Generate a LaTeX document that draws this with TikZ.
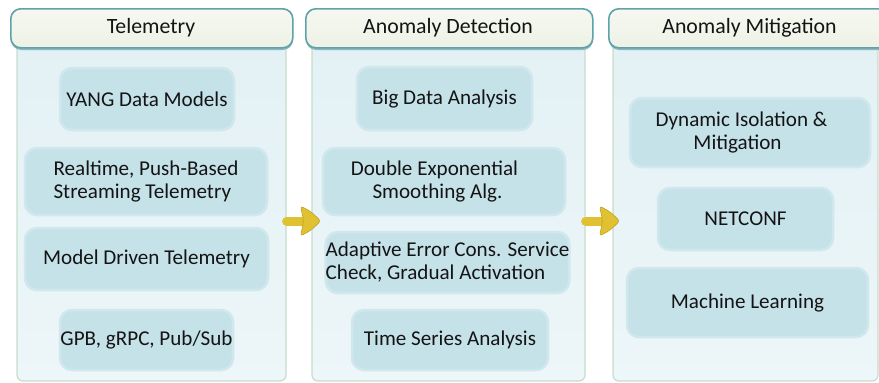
\documentclass[tikz,border=0pt]{standalone}
\usepackage{fontspec}
\setmainfont{Carlito}
\usetikzlibrary{calc}

\definecolor{headfill}{HTML}{EEF2E5}
\definecolor{headtop}{HTML}{F6F8F0}
\definecolor{headline}{HTML}{5EA2AB}
\definecolor{headshade}{HTML}{8DB9BE}
\definecolor{panelfill}{HTML}{E3F1F5}
\definecolor{panelfillb}{HTML}{EDF6F8}
\definecolor{panelline}{HTML}{C6DDCB}
\definecolor{itemfill}{HTML}{C6E2E9}
\definecolor{itemedge}{HTML}{CFE7ED}
\definecolor{textc}{HTML}{141414}
\definecolor{arrowc}{HTML}{E0C131}
\definecolor{arrowd}{HTML}{C4A229}

\tikzset{
  header/.style={draw=headline, line width=1.6pt, rounded corners=10pt,
    top color=headtop, bottom color=headfill, inner sep=0pt, anchor=north west},
  headtext/.style={text=textc, font=\fontsize{21.8}{24}\selectfont, inner sep=0pt},
  panel/.style={draw=panelline, line width=1.2pt, rounded corners=6pt,
    top color=panelfill, bottom color=panelfillb, inner sep=0pt},
  item/.style={fill=itemfill, draw=itemedge, line width=2.5pt,
    rounded corners=12pt, text=textc, align=center, inner sep=0pt,
    font=\fontsize{21.1}{23}\selectfont},
  shaft/.style={line width=9pt, line cap=round, draw=arrowc},
  ahead/.style={fill=arrowc, draw=arrowd, line width=0.6pt, rounded corners=2.5pt},
}

% box given by its corners in pixel-like units (y grows downward)
\newcommand\itembox[7][]{%
  \node[item, minimum width={#5-#3}, minimum height={#6-#4}, #1]
    (#2) at ({(#3+#5)/2},{(#4+#6)/2}) {#7};}

\newcommand\flowarrow[1]{%
  \draw[shaft] (#1) -- ++(17,0);
  \filldraw[ahead] ($(#1)+(14,-15)$) .. controls ++(11,6) .. ++(20,15)
    .. controls ++(-9,9) .. ++(-20,15) -- ++(3,-15) -- cycle;}

\begin{document}
\begin{tikzpicture}[x=1pt,y=-1pt]
\useasboundingbox (0,0) rectangle (879,383);
\clip (0,0) rectangle (879,383);

% column bodies
\node[panel, minimum width=269pt, minimum height=341pt] (p1) at (151.5,210.5) {};
\node[panel, minimum width=273pt, minimum height=341pt] (p2) at (448.5,210.5) {};
\node[panel, minimum width=265pt, minimum height=341pt] (p3) at (745.5,210.5) {};

% column headers (drop shadow first)
\fill[headshade, rounded corners=10pt] (11,11) rectangle (293,50);
\fill[headshade, rounded corners=10pt] (306,11) rectangle (593,50);
\fill[headshade, rounded corners=10pt] (609,11) rectangle (900,50);
\node[header, minimum width=282pt, minimum height=39pt] (h1) at (10,8) {};
\node[header, minimum width=287pt, minimum height=39pt] (h2) at (305,8) {};
\node[header, minimum width=290pt, minimum height=39pt] (h3) at (608,8) {};
\node[headtext] (t1) at (151,27.5) {Telemetry};
\node[headtext] (t2) at (448,27.5) {Anomaly Detection};
\node[headtext] (t3) at (749.5,27.5) {Anomaly Mitigation};

% Telemetry
\itembox{yang}{60}{68}{234}{130}{YANG Data Models}
\itembox[align=left]{push}{25}{148}{267}{215}{Realtime, Push-Based\\Streaming Telemetry}
\itembox{mdt}{25}{228}{268}{290}{Model Driven Telemetry}
\itembox{gpb}{60}{310}{233}{370}{GPB, gRPC, Pub/Sub}

% Anomaly Detection
\itembox{bigdata}{357}{67}{532}{130}{Big Data Analysis}
\itembox{des}{323}{148}{565}{215}{Double Exponential\hspace*{19pt}\\Smoothing Alg.\hspace*{13pt}}
\itembox[align=left]{aecs}{327}{232}{568}{293}{Adaptive Error Cons. Service\\Check, Gradual Activation}
\itembox{tsa}{352}{310}{548}{370}{Time Series Analysis}

% Anomaly Mitigation
\itembox{dim}{630}{98}{870}{167}{Dynamic Isolation \&\hspace*{17pt}\\Mitigation\hspace*{25pt}}
\itembox{netconf}{658}{188}{833}{250}{NETCONF}
\itembox{ml}{627}{268}{868}{337}{Machine Learning}

% flow between the columns
\path ([yshift=-10.5pt]p1.east) coordinate (a1);
\path ([yshift=-10.5pt]p2.east) coordinate (a2);
\flowarrow{a1}
\flowarrow{a2}
\end{tikzpicture}
\end{document}
